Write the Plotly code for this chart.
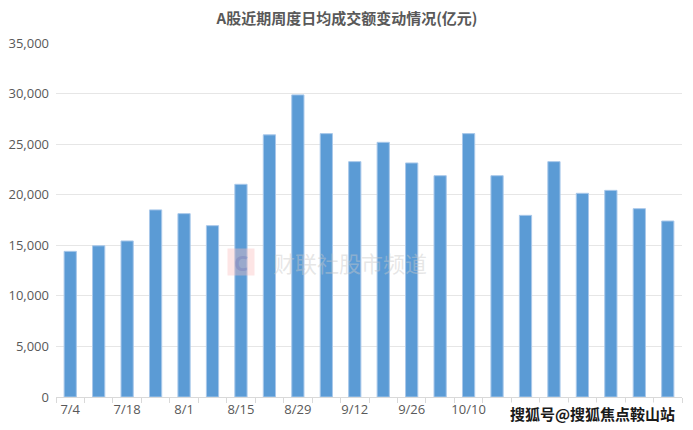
import plotly.graph_objects as go

categories = ["7/4", "7/11", "7/18", "7/25", "8/1", "8/8", "8/15", "8/22", "8/29", "9/5",
              "9/12", "9/19", "9/26", "10/3", "10/10", "10/17", "10/24", "10/31", "11/7",
              "11/14", "11/21", "11/28"]
turnover = [14400, 14950, 15430, 18500, 18130, 16940, 21030, 25920, 29870, 26040,
            23270, 25180, 23140, 21880, 26040, 21880, 17960, 23270, 20140, 20430,
            18620, 17400]
shown_labels = ["7/4", "7/18", "8/1", "8/15", "8/29", "9/12", "9/26", "10/10"]
ytick_vals = [0, 5000, 10000, 15000, 20000, 25000, 30000, 35000]

ticktext = [c if c in shown_labels else "" for c in categories]

# the page body has an 8px default margin, so the figure is laid out 8px smaller
W, H = 685, 422

fig = go.Figure()
fig.add_trace(go.Bar(
    x=categories, y=turnover,
    marker=dict(color="#5B9BD5", line=dict(color="#A9C8EA", width=1)),
    hoverinfo="x+y",
))

fig.update_layout(
    width=W, height=H,
    margin=dict(l=48, r=11, t=35, b=33),
    paper_bgcolor="white", plot_bgcolor="white",
    bargap=0.57,
    showlegend=False,
    title=dict(text="<b>A股近期周度日均成交额变动情况(亿元)</b>",
               x=339 / W, xanchor="center", y=1 - 11 / H, yanchor="middle",
               xref="container", yref="container",
               font=dict(family="Noto Sans CJK SC", size=15, color="#595959")),
    font=dict(family="Open Sans", color="#595959"),
)
fig.update_xaxes(
    type="category",
    tickmode="array", tickvals=categories, ticktext=ticktext,
    tickangle=0, automargin=False,
    tickson="boundaries", ticks="outside", ticklen=5, tickcolor="#D9D9D9",
    showline=True, linecolor="#D9D9D9", linewidth=1,
    showgrid=False,
    tickfont=dict(family="Open Sans", size=13, color="#595959"),
)
fig.update_yaxes(
    range=[0, 35000], automargin=False,
    tickmode="array", tickvals=ytick_vals,
    tickformat=",d",
    showgrid=True, gridcolor="#E6E6E6", gridwidth=1,
    zeroline=False, showline=False, ticks="",
    ticklabelstandoff=6,
    tickfont=dict(family="Open Sans", size=13, color="#595959"),
)

# faint watermark logo and text in the middle
fig.add_annotation(
    xref="paper", yref="paper", x=(241 - 56) / 626, y=(397 - 262) / 354,
    xanchor="center", yanchor="middle",
    text="<b>C</b>", showarrow=False,
    font=dict(family="Noto Sans", size=22, color="rgba(120,130,190,0.45)"),
    bgcolor="rgba(250,190,190,0.4)", width=26, height=26, borderpad=0,
)
fig.add_annotation(
    xref="paper", yref="paper", x=(350 - 56) / 626, y=(397 - 262) / 354,
    xanchor="center", yanchor="middle",
    text="财联社股市频道", showarrow=False,
    font=dict(family="Noto Sans CJK SC", size=22, color="rgba(200,200,200,0.45)"),
)
# source watermark bottom right
fig.add_annotation(
    xref="paper", yref="paper", x=(592 - 56) / 626, y=(397 - 413.5) / 354,
    xanchor="center", yanchor="middle",
    text="<b>搜狐号@搜狐焦点鞍山站</b>", showarrow=False,
    font=dict(family="Noto Sans CJK SC", size=15, color="#1a1a1a"),
    bgcolor="white", borderpad=0,
)

fig.write_html("out.html")
